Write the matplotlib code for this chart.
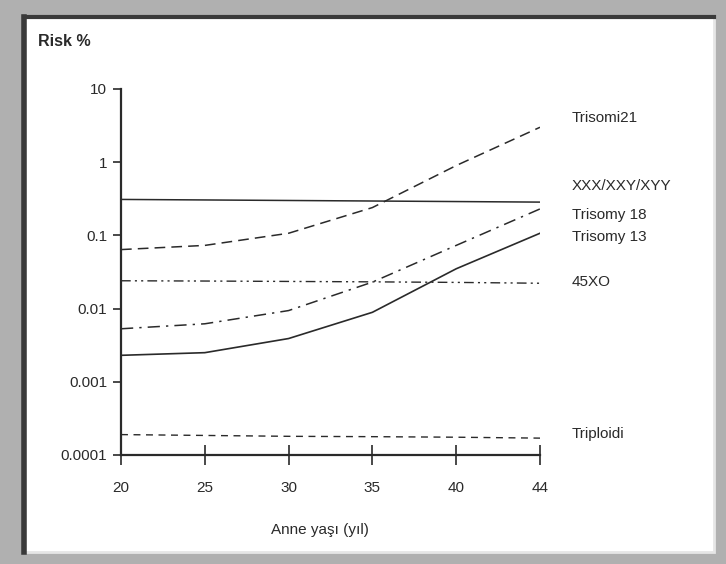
import numpy as np
from matplotlib import pyplot as plt
from matplotlib.patches import Rectangle
from matplotlib.lines import Line2D

plt.rcParams["font.family"] = ["Liberation Sans", "DejaVu Sans"]

ages = ["20", "25", "30", "35", "40", "44"]
trisomi21 = [0.064, 0.073, 0.107, 0.24, 0.9, 3.0]
xxx_xxy_xyy = [0.31, 0.305, 0.30, 0.295, 0.29, 0.285]
trisomy18 = [0.0053, 0.0062, 0.0094, 0.023, 0.073, 0.23]
trisomy13 = [0.0023, 0.0025, 0.0039, 0.0089, 0.035, 0.107]
xo45 = [0.024, 0.0238, 0.0235, 0.0232, 0.0228, 0.0222]
triploidi = [0.00019, 0.000185, 0.00018, 0.000178, 0.000175, 0.00017]

names = ["Trisomi21", "XXX/XXY/XYY", "Trisomy 18", "Trisomy 13", "45XO", "Triploidi"]
label_y = [4.0, 0.47, 0.19, 0.094, 0.023, 0.000195]

ink = "#2a2a2a"
W, H = 726, 564
fig = plt.figure(figsize=(7.26, 5.64), dpi=100, facecolor="#b0b0b0")

# scanned frame: gray band, dark edge on left/top, white panel
fig.patches.append(Rectangle((24 / W, 1 - 552 / H), 690 / W, 535 / H, transform=fig.transFigure,
                             facecolor="white", edgecolor="#e6e6e6", lw=2, zorder=-1))
fig.lines.append(Line2D([24 / W, 24 / W], [1 - 552 / H, 1 - 17 / H], transform=fig.transFigure,
                        color="#3a3a3a", lw=4, zorder=-0.5))
fig.lines.append(Line2D([24 / W, 714 / W], [1 - 17 / H, 1 - 17 / H], transform=fig.transFigure,
                        color="#3a3a3a", lw=3, zorder=-0.5))

ax = fig.add_axes([121 / W, 1 - 455 / H, (540 - 121) / W, (455 - 89) / H])
ax.set_facecolor("none")
x = np.arange(len(ages))

ax.plot(x, trisomi21, c=ink, lw=1.1, ls=(0, (7, 4)))
ax.plot(x, xxx_xxy_xyy, c=ink, lw=1.1, ls="-")
ax.plot(x, trisomy18, c=ink, lw=1.1, ls=(0, (8, 4, 1.5, 4)))
ax.plot(x, trisomy13, c=ink, lw=1.2, ls="-")
ax.plot(x, xo45, c=ink, lw=1.0, ls=(0, (7, 3, 1.5, 3, 1.5, 3)))
ax.plot(x, triploidi, c=ink, lw=1.0, ls=(0, (5, 4)))

for name, ly in zip(names, label_y):
    ax.text(5.38, ly, name, fontsize=11, color=ink, va="center", ha="left", clip_on=False)

ax.set_yscale("log")
ax.set_ylim(0.0001, 10)
ax.set_xlim(0, 5)
ax.set_yticks([0.0001, 0.001, 0.01, 0.1, 1, 10])
ax.set_yticklabels(["0.0001", "0.001", "0.01", "0.1", "1", "10"])
ax.minorticks_off()
ax.set_xticks(x)
ax.set_xticklabels(ages)

for s in ["top", "right"]:
    ax.spines[s].set_visible(False)
for s in ["left", "bottom"]:
    ax.spines[s].set_linewidth(1.6)
    ax.spines[s].set_color(ink)

ax.tick_params(axis="y", direction="out", length=6, width=1.2, colors=ink, labelsize=11, pad=4)
ax.tick_params(axis="x", direction="inout", length=14, width=1.2, colors=ink, labelsize=11, pad=12)

fig.text(38 / W, 1 - 42 / H, "Risk %", fontsize=11.5, fontweight="bold", color=ink, va="center")
fig.text(320 / W, 1 - 530 / H, "Anne yaşı (yıl)", fontsize=11, color=ink, ha="center", va="center")

plt.savefig("out.png", dpi=100, facecolor=fig.get_facecolor())
plt.close()
